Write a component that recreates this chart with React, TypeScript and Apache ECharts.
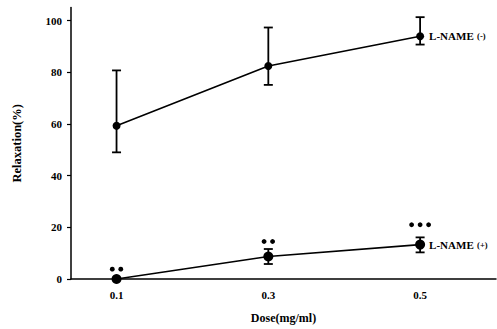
import React, { useEffect, useRef } from "react";
import * as echarts from "echarts";

const doses = [0.1, 0.3, 0.5];
const doseLabels = ["0.1", "0.3", "0.5"];
const yTicks = [0, 20, 40, 60, 80, 100];

const minusMean = [59.3, 82.4, 93.9];
const minusLow = [49.0, 75.1, 90.7];
const minusHigh = [80.7, 97.3, 101.3];

const plusMean = [0, 8.7, 13.3];
const plusLow = [0, 5.8, 10.3];
const plusHigh = [0, 11.6, 16.1];

const starCounts = [2, 2, 3];
const starLevels = [3.8, 14.5, 21];

const FONT = "Liberation Serif";

export default function App() {
  const ref = useRef<HTMLDivElement>(null);
  useEffect(() => {
    if (!ref.current) return;
    const chart = echarts.init(ref.current, null, { renderer: "svg" });

    const errData = [
      ...doses.map((d, i) => [d, minusLow[i], minusHigh[i]]),
      ...doses.map((d, i) => [d, plusLow[i], plusHigh[i]]).filter((r) => r[2] > r[1]),
    ];

    const errorSeries = {
      type: "custom",
      data: errData,
      z: 3,
      renderItem: (params: any, api: any) => {
        const x = api.value(0);
        const lo = api.coord([x, api.value(1)]);
        const hi = api.coord([x, api.value(2)]);
        const hw = 4.5;
        const style = { stroke: "#000", lineWidth: 1.8 };
        return {
          type: "group",
          children: [
            { type: "line", shape: { x1: lo[0], y1: lo[1], x2: hi[0], y2: hi[1] }, style },
            { type: "line", shape: { x1: lo[0] - hw, y1: lo[1], x2: lo[0] + hw, y2: lo[1] }, style },
            { type: "line", shape: { x1: hi[0] - hw, y1: hi[1], x2: hi[0] + hw, y2: hi[1] }, style },
          ],
        };
      },
    };

    const starSeries = {
      type: "custom",
      data: doses.map((d, i) => [d, starLevels[i], starCounts[i]]),
      z: 4,
      renderItem: (params: any, api: any) => {
        const p = api.coord([api.value(0), api.value(1)]);
        const n = api.value(2);
        const gap = 8.5;
        const children = [];
        for (let k = 0; k < n; k++) {
          children.push({
            type: "circle",
            shape: { cx: p[0] + (k - (n - 1) / 2) * gap, cy: p[1], r: 2.4 },
            style: { fill: "#000" },
          });
        }
        return { type: "group", children };
      },
    };

    const labelRich = {
      a: { fontFamily: FONT, fontWeight: "bold", fontSize: 11, color: "#000" },
      b: { fontFamily: FONT, fontWeight: "bold", fontSize: 8.5, color: "#000" },
    };

    chart.setOption({
      animation: false,
      grid: { left: 71, right: 1, top: 7.6, bottom: 47, containLabel: false },
      xAxis: {
        type: "value",
        min: 0.04,
        max: 0.6,
        name: "Dose(mg/ml)",
        nameLocation: "middle",
        nameGap: 33,
        nameTextStyle: { fontFamily: FONT, fontWeight: "bold", fontSize: 12, color: "#000" },
        axisLine: { lineStyle: { color: "#000", width: 1.5 } },
        axisTick: { show: false },
        splitLine: { show: false },
        axisLabel: {
          customValues: doses,
          formatter: (v: number) => doseLabels[doses.findIndex((d) => Math.abs(d - v) < 1e-6)] ?? "",
          fontFamily: FONT,
          fontWeight: "bold",
          fontSize: 11,
          color: "#000",
          margin: 10,
        },
      },
      yAxis: {
        type: "value",
        min: 0,
        max: 105,
        name: "Relaxation(%)",
        nameLocation: "middle",
        nameGap: 48,
        nameRotate: 90,
        nameTextStyle: { fontFamily: FONT, fontWeight: "bold", fontSize: 12.5, color: "#000" },
        axisLine: { show: true, lineStyle: { color: "#000", width: 1.5 } },
        axisTick: { show: true, customValues: yTicks, length: 4, lineStyle: { color: "#000", width: 1.2 } },
        splitLine: { show: false },
        axisLabel: {
          customValues: yTicks,
          fontFamily: FONT,
          fontWeight: "bold",
          fontSize: 11,
          color: "#000",
          margin: 9,
        },
      },
      series: [
        errorSeries,
        {
          type: "line",
          data: doses.map((d, i) => [d, minusMean[i]]),
          symbol: "circle",
          symbolSize: 8,
          itemStyle: { color: "#000" },
          lineStyle: { color: "#000", width: 1.6 },
          z: 5,
          endLabel: {
            show: true,
            distance: 9,
            color: "#000",
            formatter: "{a|L-NAME} {b|(-)}",
            rich: labelRich,
          },
        },
        {
          type: "line",
          data: doses.map((d, i) => [d, plusMean[i]]),
          symbol: "circle",
          symbolSize: 10,
          itemStyle: { color: "#000" },
          lineStyle: { color: "#000", width: 1.6 },
          z: 5,
          endLabel: {
            show: true,
            distance: 9,
            color: "#000",
            formatter: "{a|L-NAME} {b|(+)}",
            rich: labelRich,
          },
        },
        starSeries,
      ],
    });
    return () => chart.dispose();
  }, []);
  return (
    <div
      ref={ref}
      style={{ position: "fixed", left: 0, top: 0, width: 497, height: 329, background: "#fff" }}
    />
  );
}
